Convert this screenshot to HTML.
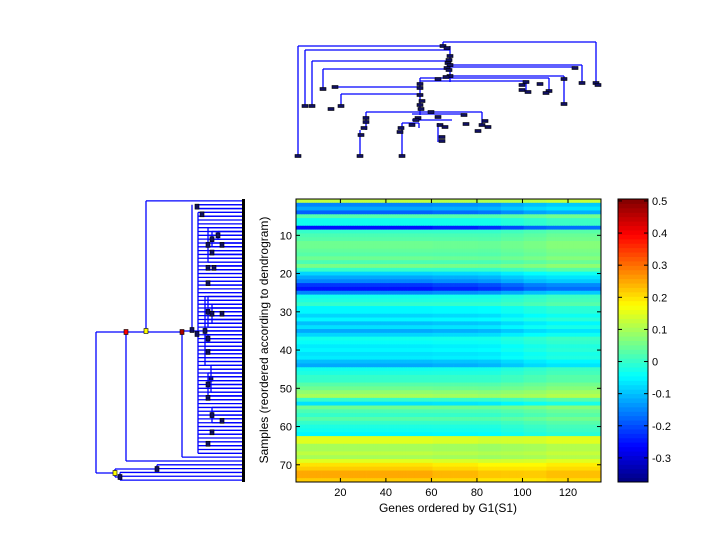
<!DOCTYPE html>
<html><head><meta charset="utf-8"><style>
body{margin:0;background:#fff;}
svg{display:block;font-family:"Liberation Sans",sans-serif;}
</style></head><body>
<svg id="fig" width="720" height="540" viewBox="0 0 720 540" xmlns="http://www.w3.org/2000/svg">
<g id="topdendro" stroke="#0000ff" stroke-width="1.3" fill="none"></g>
<g id="leftdendro" stroke="#0000ff" stroke-width="1.3" fill="none"></g>
<g id="heat"></g>
<g id="axes"></g>
<g id="cbar"></g>
<text x="448" y="512" font-size="12" text-anchor="middle">Genes ordered by G1(S1)</text>
<text transform="translate(268,340) rotate(-90)" font-size="12" text-anchor="middle">Samples (reordered according to dendrogram)</text>
</svg>
<script>
// ---- data ----
const rowMeans = [0.12,-0.15,-0.12,-0.18,0.03,-0.03,-0.03,-0.25,0.0,0.02,0.03,0.05,0.05,0.04,0.03,0.05,0.02,0.06,0.0,-0.08,-0.12,-0.15,-0.22,-0.25,-0.15,-0.03,-0.02,0.0,-0.05,-0.05,-0.08,-0.05,-0.1,-0.07,-0.12,-0.08,-0.03,-0.04,-0.06,-0.05,-0.07,-0.06,-0.1,-0.12,-0.03,-0.02,0.0,0.0,0.03,0.05,0.08,0.1,0.0,-0.07,0.05,0.02,0.0,0.03,0.0,-0.02,-0.03,-0.05,0.15,0.15,0.1,0.1,0.12,0.1,0.15,0.2,0.22,0.25,0.25,0.22];
const colContrast = [1,1,1,1,1,1,0.95,0.95,0.9,0.85,0.8,0.8,0.8,0.8];
const colShift = [0,0,0,0,0,0,0,0,0,0.01,0.02,0.03,0.03,0.03];
const xTicks = [20,40,60,80,100,120];
const yTicks = [10,20,30,40,50,60,70];
const cbarTicks = [0.5,0.4,0.3,0.2,0.1,0,-0.1,-0.2,-0.3];
const nCols = 134;
const cmin = -0.375, cmax = 0.506;

const NS = "http://www.w3.org/2000/svg";
const X0=296, X1=601, Y0=199, Y1=482;
const xScale = g => X0 + (g-0.5)*(X1-X0)/nCols;
const yScale = s => Y0 + (s-0.5)*(Y1-Y0)/rowMeans.length;
function jet(v){
  let t=(v-cmin)/(cmax-cmin); t=Math.max(0,Math.min(1,t));
  const f=x=>Math.round(255*Math.max(0,Math.min(1,x)));
  return `rgb(${f(1.5-Math.abs(4*t-3))},${f(1.5-Math.abs(4*t-2))},${f(1.5-Math.abs(4*t-1))})`;
}
function mk(tag,attrs,parent){const e=document.createElementNS(NS,tag);for(const k in attrs)e.setAttribute(k,attrs[k]);parent.appendChild(e);return e;}

// heatmap
const heat=document.getElementById('heat');
const cw=(X1-X0)/nCols, rh=(Y1-Y0)/rowMeans.length;
rowMeans.forEach((m,r)=>{
  for(let c=0;c<nCols;c++){
    const g=Math.min(colContrast.length-1,Math.floor(c/10));
    const v=m*colContrast[g]+colShift[g];
    const e=mk('rect',{x:xScale(c+1)-cw/2,y:yScale(r+1)-rh/2,width:cw+0.4,height:rh+0.4,fill:jet(v)},heat);
    
    
  }
});
// axes
const ax=document.getElementById('axes');
mk('rect',{x:X0,y:Y0,width:X1-X0,height:Y1-Y0,fill:'none',stroke:'#000','stroke-width':1},ax);
xTicks.forEach(t=>{
  const x=xScale(t);
  mk('line',{x1:x,x2:x,y1:Y1,y2:Y1-4,stroke:'#000'},ax);
  mk('line',{x1:x,x2:x,y1:Y0,y2:Y0+4,stroke:'#000'},ax);
  const tx=mk('text',{x:x,y:Y1+14,'font-size':11,'text-anchor':'middle'},ax);tx.textContent=t;
  
  
});
yTicks.forEach(t=>{
  const y=yScale(t);
  mk('line',{x1:X0,x2:X0+4,y1:y,y2:y,stroke:'#000'},ax);
  mk('line',{x1:X1,x2:X1-4,y1:y,y2:y,stroke:'#000'},ax);
  const tx=mk('text',{x:X0-4,y:y+4,'font-size':11,'text-anchor':'end'},ax);tx.textContent=t;
  
  
});
// colorbar
const cb=document.getElementById('cbar');
const CX0=618,CX1=648,CY0=199,CY1=482;
const cy=v=>CY1-(v-cmin)/(cmax-cmin)*(CY1-CY0);
for(let i=0;i<64;i++){
  const v0=cmin+i*(cmax-cmin)/64, v1=cmin+(i+1)*(cmax-cmin)/64;
  mk('rect',{x:CX0,y:cy(v1),width:CX1-CX0,height:cy(v0)-cy(v1)+0.5,fill:jet((v0+v1)/2)},cb);
}
mk('rect',{x:CX0,y:CY0,width:CX1-CX0,height:CY1-CY0,fill:'none',stroke:'#000'},cb);
cbarTicks.forEach(t=>{
  const y=cy(t);
  mk('line',{x1:CX1,x2:CX1-4,y1:y,y2:y,stroke:'#000'},cb);
  mk('line',{x1:CX0,x2:CX0+4,y1:y,y2:y,stroke:'#000'},cb);
  const tx=mk('text',{x:CX1+4,y:y+4,'font-size':11},cb);tx.textContent=t;
  
  
});

// left dendrogram
const ld=document.getElementById('leftdendro');
const LX=243;
const ly=r=>yScale(r+1);
function hl(x1,x2,y,p){mk('line',{x1:x1,x2:x2,y1:y,y2:y},p);}
function vl(x,y1,y2,p){mk('line',{x1:x,x2:x,y1:y1,y2:y2},p);}
function node(x,y,p,col){mk('rect',{x:x-2,y:y-2.5,width:4,height:5,fill:col||'#101060',stroke:'#000','stroke-width':0.6},p);}
const groups=[[197,1,2],[202,3,4],[208,7,16],[212,8,12],[218,8,10],[222,11,12],[212,13,14],[208,17,18],[214,17,18],[208,21,22],[205,25,43],[208,25,33],[212,27,32],[222,29,30],[208,35,37],[208,39,40],[211,43,50],[208,45,51],[208,51,52],[212,54,58],[222,57,58],[212,60,61],[208,63,64]];
for(let r=1;r<=66;r++) hl(198,LX,ly(r),ld);
vl(192,ly(1),331,ld); vl(198,ly(3),ly(66),ld);
groups.forEach(g=>{vl(g[0],ly(g[1]),ly(g[2]),ld);for(let r=g[1];r<=g[2];r++)hl(g[0],LX,ly(r),ld);node(g[0],(ly(g[1])+ly(g[2]))/2,ld);});
hl(146,LX,ly(0),ld); vl(146,ly(0),332,ld);
hl(126,182,332,ld); vl(182,332,ly(67),ld); hl(182,LX,ly(67),ld);
hl(182,198,331,ld);
vl(126,332,ly(68),ld); hl(126,LX,ly(68),ld);
hl(96,126,332,ld); vl(96,332,473,ld); hl(96,115,473,ld);
vl(115,469,477,ld); hl(115,157,469,ld); vl(157,ly(69),ly(70),ld); hl(157,LX,ly(69),ld); hl(157,LX,ly(70),ld);
hl(115,120,477,ld); vl(120,ly(71),ly(73),ld); for(let r=71;r<=73;r++)hl(120,LX,ly(r),ld);
node(126,332,ld,'#ff0000'); node(146,331,ld,'#ffff00'); node(182,332,ld,'#aa0000'); node(192,330,ld); node(197,334,ld);
node(115,473,ld,'#ffff00'); node(157,469,ld); node(120,477,ld);
mk('rect',{x:242,y:199,width:3,height:283,fill:'#000',stroke:'none'},ld);

// top dendrogram (segments)
const td=document.getElementById('topdendro');
const segs=[[443,42,596,42],[596,42,596,83],[443,42,443,46],[298,46,443,46],[298,46,298,156],[305,50,450,50],[305,50,305,106],[450,46,450,82],[312,61,450,61],[312,61,312,106],[450,65,582,65],[582,65,582,83],[450,67,575,67],[323,69,447,69],[323,69,323,89],[450,76,564,76],[564,76,564,104],[420,78,549,78],[549,78,549,91],[420,81,526,81],[526,81,526,93],[420,78,420,115],[335,87,420,87],[341,94,420,94],[341,94,341,106],[366,112,482,112],[482,112,482,125],[366,112,366,130],[360,130,360,156],[412,114,465,114],[412,120,452,120],[402,123,419,123],[402,123,402,156],[438,123,438,142],[419,123,419,128]];
segs.forEach(s=>mk('line',{x1:s[0],y1:s[1],x2:s[2],y2:s[3]},td));
const tnodes=[[443,46],[447,48],[450,56],[449,60],[448,63],[450,65],[447,68],[449,70],[450,76],[438,79],[446,77],[298,156],[305,106],[312,106],[323,89],[335,87],[341,106],[420,84],[420,88],[420,95],[422,101],[420,105],[421,109],[366,118],[364,128],[361,135],[360,156],[402,156],[401,128],[400,132],[418,118],[416,120],[412,125],[440,125],[445,127],[442,137],[442,141],[485,121],[482,125],[478,131],[488,127],[526,82],[522,85],[522,90],[528,92],[540,84],[549,91],[546,93],[564,79],[564,104],[575,68],[582,83],[596,83],[598,85],[431,112],[438,117],[464,115],[466,124],[366,122],[331,109]];
tnodes.forEach(n=>{const e=mk('rect',{x:n[0]-3,y:n[1]-1.5,width:6,height:3,fill:'#101060',stroke:'#000','stroke-width':0.6},td);});
</script>
</body></html>
